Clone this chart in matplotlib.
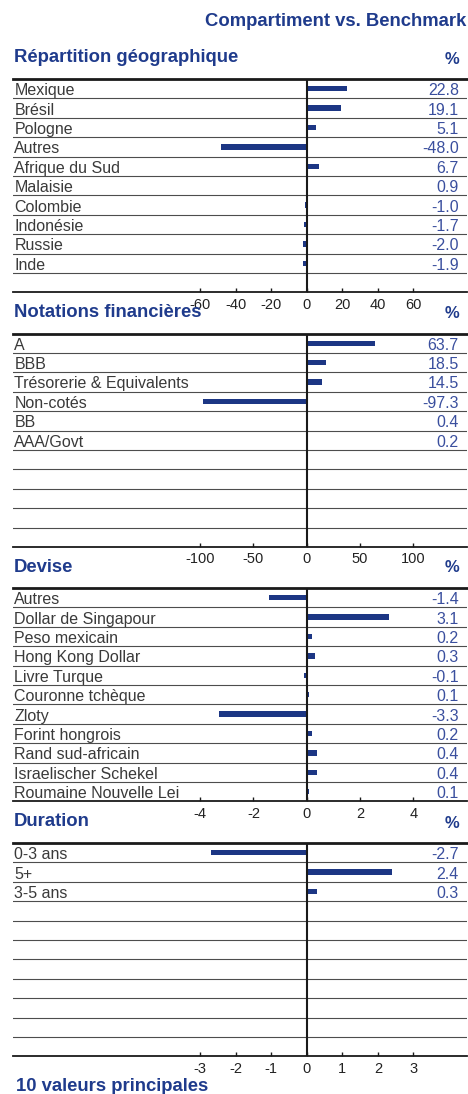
import matplotlib
matplotlib.use('Agg')
import numpy as np
import matplotlib.pyplot as plt

plt.rcParams['font.family'] = ['Liberation Sans', 'DejaVu Sans']
plt.rcParams['axes.unicode_minus'] = False

# données
geo_labels = ['Mexique', 'Brésil', 'Pologne', 'Autres', 'Afrique du Sud', 'Malaisie',
              'Colombie', 'Indonésie', 'Russie', 'Inde']
geo_values = [22.8, 19.1, 5.1, -48.0, 6.7, 0.9, -1.0, -1.7, -2.0, -1.9]
geo_ticks = [-60, -40, -20, 0, 20, 40, 60]

rating_labels = ['A', 'BBB', 'Trésorerie & Equivalents', 'Non-cotés', 'BB', 'AAA/Govt']
rating_values = [63.7, 18.5, 14.5, -97.3, 0.4, 0.2]
rating_ticks = [-100, -50, 0, 50, 100]

devise_labels = ['Autres', 'Dollar de Singapour', 'Peso mexicain', 'Hong Kong Dollar',
                 'Livre Turque', 'Couronne tchèque', 'Zloty', 'Forint hongrois',
                 'Rand sud-africain', 'Israelischer Schekel', 'Roumaine Nouvelle Lei']
devise_values = [-1.4, 3.1, 0.2, 0.3, -0.1, 0.1, -3.3, 0.2, 0.4, 0.4, 0.1]
devise_ticks = [-4, -2, 0, 2, 4]

duration_labels = ['0-3 ans', '5+', '3-5 ans']
duration_values = [-2.7, 2.4, 0.3]
duration_ticks = [-3, -2, -1, 0, 1, 2, 3]

# mise en page (pixels)
W, H = 468, 1094
ROWS = 11
ROW_H = 19.4
BLUE = '#1f3b8c'
BAR = '#1c3684'
VAL = '#3a4f9e'
TXT = '#3a3a3a'

fig = plt.figure(figsize=(W / 100, H / 100), dpi=100)


def px(x, y):
    return x / W, 1 - y / H


def section(top, title, labels, values, ticks):
    # titre de la section + %
    fig.text(*px(14, top - 16.5), title, color=BLUE, fontsize=13.3,
             fontweight='bold', va='baseline', ha='left')
    fig.text(*px(459, top - 15.5), '%', color=BLUE, fontsize=12,
             fontweight='bold', va='baseline', ha='right')

    ax = fig.add_axes([13 / W, 1 - (top + ROWS * ROW_H) / H, 454 / W, ROWS * ROW_H / H])
    k = ticks[-1]
    ax.set_xlim(-2.753 * k, 1.502 * k)
    ax.set_ylim(ROWS, 0)
    y = np.arange(len(values)) + 0.5
    ax.barh(y, values, height=0.27, color=BAR, zorder=3)
    for i in range(1, ROWS):
        ax.axhline(i, color='#4d4d4d', lw=0.8, zorder=1)
    ax.axvline(0, color='#1a1a1a', lw=1.5, zorder=4)

    for s in ['left', 'right']:
        ax.spines[s].set_visible(False)
    ax.spines['top'].set_linewidth(2)
    ax.spines['top'].set_color('#1a1a1a')
    ax.spines['bottom'].set_linewidth(1.3)
    ax.spines['bottom'].set_color('#1a1a1a')

    ax.set_yticks([])
    ax.set_xticks(ticks)
    ax.set_xticklabels([str(t) for t in ticks])
    ax.tick_params(axis='x', direction='in', length=3, width=1, pad=4,
                   labelsize=10.5, labelcolor='#222222', color='#1a1a1a')

    tr = ax.get_yaxis_transform()
    for i, (lab, v) in enumerate(zip(labels, values)):
        ax.text(0.003, i + 0.83, lab, transform=tr, fontsize=11.5, color=TXT,
                va='baseline', ha='left')
        ax.text(0.982, i + 0.83, f'{v:.1f}', transform=tr, fontsize=11.5, color=VAL,
                va='baseline', ha='right')
    return ax


fig.text(*px(466, 26), 'Compartiment vs. Benchmark', color=BLUE, fontsize=13.3,
         fontweight='bold', va='baseline', ha='right')

section(79, 'Répartition géographique', geo_labels, geo_values, geo_ticks)
section(333.5, 'Notations financières', rating_labels, rating_values, rating_ticks)
section(588, 'Devise', devise_labels, devise_values, devise_ticks)
section(843, 'Duration', duration_labels, duration_values, duration_ticks)

fig.text(*px(16, 1091), '10 valeurs principales', color=BLUE, fontsize=13.3,
         fontweight='bold', va='baseline', ha='left')

fig.savefig('out.png', dpi=100)
